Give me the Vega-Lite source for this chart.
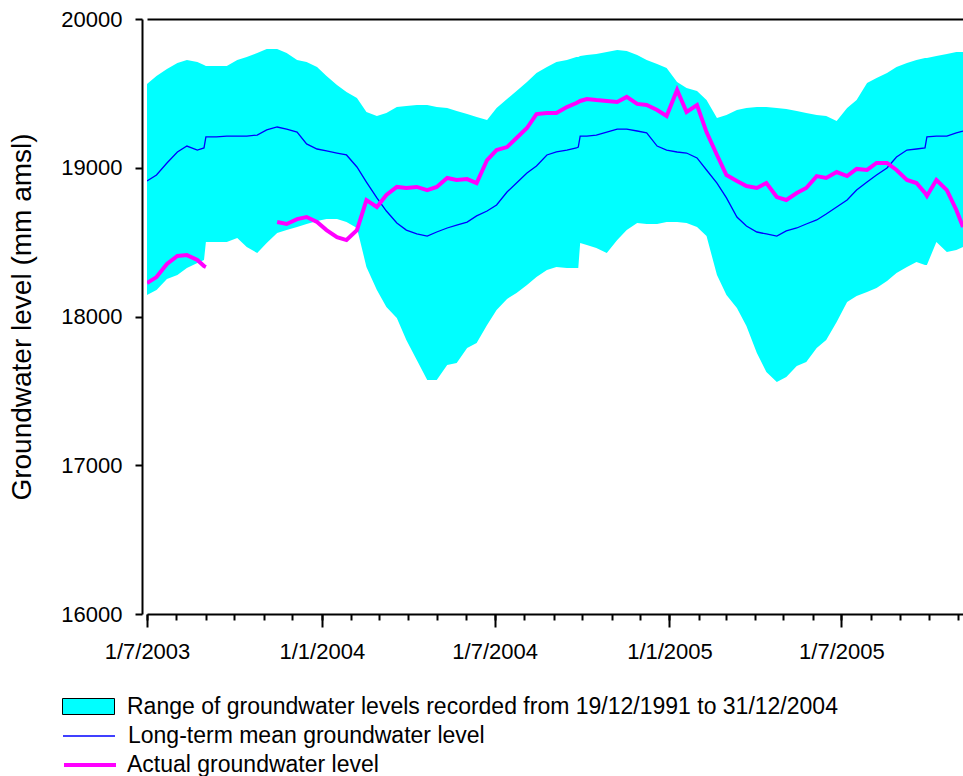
{
 "$schema": "https://vega.github.io/schema/vega-lite/v6.json",
 "width": 816,
 "height": 595,
 "autosize": {"type": "none"},
 "padding": {"left": 147, "top": 19, "right": 0, "bottom": 162},
 "background": "white",
 "config": {"view": {"stroke": null}, "font": "Liberation Sans", "axis": {"grid": false, "domainColor": "black", "tickColor": "black", "labelColor": "black", "titleColor": "black"}},
 "data": {"values": [
  {"d":"2003-07-01","lo":18144,"hi":19563,"mn":18911,"ac":18225,"sg":1},
  {"d":"2003-07-11","lo":18178,"hi":19617,"mn":18951,"ac":18265,"sg":1},
  {"d":"2003-07-22","lo":18252,"hi":19664,"mn":19032,"ac":18353,"sg":1},
  {"d":"2003-08-02","lo":18279,"hi":19704,"mn":19106,"ac":18407,"sg":1},
  {"d":"2003-08-12","lo":18326,"hi":19724,"mn":19146,"ac":18413,"sg":1},
  {"d":"2003-08-23","lo":18360,"hi":19711,"mn":19119,"ac":18380,"sg":1},
  {"d":"2003-08-30","lo":18380,"hi":19691,"mn":19133,"ac":18339,"sg":1},
  {"d":"2003-09-01","lo":18501,"hi":19684,"mn":19207,"ac":18333,"sg":1},
  {"d":"2003-09-02","lo":18501,"hi":19684,"mn":19207,"ac":null,"sg":null},
  {"d":"2003-09-12","lo":18501,"hi":19684,"mn":19207,"ac":null,"sg":null},
  {"d":"2003-09-23","lo":18501,"hi":19684,"mn":19213,"ac":null,"sg":null},
  {"d":"2003-10-04","lo":18528,"hi":19724,"mn":19213,"ac":null,"sg":null},
  {"d":"2003-10-14","lo":18467,"hi":19745,"mn":19213,"ac":null,"sg":null},
  {"d":"2003-10-25","lo":18427,"hi":19771,"mn":19220,"ac":null,"sg":null},
  {"d":"2003-11-04","lo":18494,"hi":19798,"mn":19254,"ac":null,"sg":null},
  {"d":"2003-11-15","lo":18561,"hi":19798,"mn":19274,"ac":18635,"sg":2},
  {"d":"2003-11-25","lo":18581,"hi":19771,"mn":19260,"ac":18622,"sg":2},
  {"d":"2003-12-06","lo":18602,"hi":19724,"mn":19240,"ac":18655,"sg":2},
  {"d":"2003-12-16","lo":18622,"hi":19711,"mn":19160,"ac":18669,"sg":2},
  {"d":"2003-12-27","lo":18642,"hi":19677,"mn":19126,"ac":18635,"sg":2},
  {"d":"2004-01-06","lo":18655,"hi":19617,"mn":19113,"ac":18581,"sg":2},
  {"d":"2004-01-17","lo":18655,"hi":19556,"mn":19099,"ac":18534,"sg":2},
  {"d":"2004-01-27","lo":18635,"hi":19509,"mn":19086,"ac":18514,"sg":2},
  {"d":"2004-02-07","lo":18595,"hi":19469,"mn":19005,"ac":18581,"sg":2},
  {"d":"2004-02-17","lo":18333,"hi":19375,"mn":18904,"ac":18783,"sg":2},
  {"d":"2004-02-28","lo":18178,"hi":19348,"mn":18797,"ac":18736,"sg":2},
  {"d":"2004-03-09","lo":18064,"hi":19368,"mn":18709,"ac":18817,"sg":2},
  {"d":"2004-03-20","lo":17990,"hi":19408,"mn":18629,"ac":18871,"sg":2},
  {"d":"2004-03-30","lo":17842,"hi":19415,"mn":18581,"ac":18864,"sg":2},
  {"d":"2004-04-10","lo":17707,"hi":19422,"mn":18555,"ac":18871,"sg":2},
  {"d":"2004-04-21","lo":17573,"hi":19422,"mn":18541,"ac":18850,"sg":2},
  {"d":"2004-05-01","lo":17573,"hi":19408,"mn":18568,"ac":18871,"sg":2},
  {"d":"2004-05-12","lo":17674,"hi":19402,"mn":18595,"ac":18931,"sg":2},
  {"d":"2004-05-22","lo":17687,"hi":19381,"mn":18615,"ac":18918,"sg":2},
  {"d":"2004-06-02","lo":17788,"hi":19361,"mn":18635,"ac":18924,"sg":2},
  {"d":"2004-06-12","lo":17822,"hi":19341,"mn":18676,"ac":18897,"sg":2},
  {"d":"2004-06-23","lo":17943,"hi":19321,"mn":18709,"ac":19052,"sg":2},
  {"d":"2004-07-03","lo":18044,"hi":19402,"mn":18750,"ac":19119,"sg":2},
  {"d":"2004-07-14","lo":18118,"hi":19462,"mn":18837,"ac":19139,"sg":2},
  {"d":"2004-07-24","lo":18158,"hi":19516,"mn":18897,"ac":19200,"sg":2},
  {"d":"2004-08-04","lo":18212,"hi":19576,"mn":18965,"ac":19267,"sg":2},
  {"d":"2004-08-14","lo":18265,"hi":19637,"mn":19012,"ac":19361,"sg":2},
  {"d":"2004-08-25","lo":18313,"hi":19677,"mn":19086,"ac":19368,"sg":2},
  {"d":"2004-09-04","lo":18333,"hi":19711,"mn":19106,"ac":19368,"sg":2},
  {"d":"2004-09-15","lo":18326,"hi":19724,"mn":19119,"ac":19408,"sg":2},
  {"d":"2004-09-25","lo":18326,"hi":19745,"mn":19133,"ac":19435,"sg":2},
  {"d":"2004-09-27","lo":18326,"hi":19745,"mn":19139,"ac":19442,"sg":2},
  {"d":"2004-09-29","lo":18494,"hi":19751,"mn":19213,"ac":19449,"sg":2},
  {"d":"2004-10-06","lo":18481,"hi":19758,"mn":19213,"ac":19462,"sg":2},
  {"d":"2004-10-16","lo":18460,"hi":19765,"mn":19220,"ac":19455,"sg":2},
  {"d":"2004-10-27","lo":18427,"hi":19778,"mn":19240,"ac":19449,"sg":2},
  {"d":"2004-11-07","lo":18514,"hi":19792,"mn":19260,"ac":19442,"sg":2},
  {"d":"2004-11-17","lo":18581,"hi":19785,"mn":19260,"ac":19476,"sg":2},
  {"d":"2004-11-28","lo":18629,"hi":19758,"mn":19247,"ac":19429,"sg":2},
  {"d":"2004-12-08","lo":18622,"hi":19724,"mn":19234,"ac":19422,"sg":2},
  {"d":"2004-12-19","lo":18622,"hi":19697,"mn":19146,"ac":19388,"sg":2},
  {"d":"2004-12-29","lo":18635,"hi":19671,"mn":19119,"ac":19348,"sg":2},
  {"d":"2005-01-09","lo":18635,"hi":19576,"mn":19106,"ac":19523,"sg":2},
  {"d":"2005-01-19","lo":18629,"hi":19536,"mn":19099,"ac":19375,"sg":2},
  {"d":"2005-01-30","lo":18602,"hi":19516,"mn":19066,"ac":19422,"sg":2},
  {"d":"2005-02-09","lo":18541,"hi":19455,"mn":18985,"ac":19240,"sg":2},
  {"d":"2005-02-20","lo":18279,"hi":19334,"mn":18897,"ac":19086,"sg":2},
  {"d":"2005-03-02","lo":18144,"hi":19355,"mn":18797,"ac":18951,"sg":2},
  {"d":"2005-03-13","lo":18057,"hi":19388,"mn":18669,"ac":18911,"sg":2},
  {"d":"2005-03-23","lo":17936,"hi":19402,"mn":18608,"ac":18877,"sg":2},
  {"d":"2005-04-03","lo":17755,"hi":19408,"mn":18568,"ac":18864,"sg":2},
  {"d":"2005-04-13","lo":17627,"hi":19408,"mn":18555,"ac":18897,"sg":2},
  {"d":"2005-04-24","lo":17560,"hi":19402,"mn":18541,"ac":18803,"sg":2},
  {"d":"2005-05-04","lo":17593,"hi":19395,"mn":18575,"ac":18783,"sg":2},
  {"d":"2005-05-15","lo":17667,"hi":19381,"mn":18595,"ac":18830,"sg":2},
  {"d":"2005-05-25","lo":17694,"hi":19368,"mn":18622,"ac":18864,"sg":2},
  {"d":"2005-06-05","lo":17788,"hi":19355,"mn":18649,"ac":18944,"sg":2},
  {"d":"2005-06-15","lo":17842,"hi":19348,"mn":18689,"ac":18931,"sg":2},
  {"d":"2005-06-26","lo":17963,"hi":19314,"mn":18736,"ac":18971,"sg":2},
  {"d":"2005-07-07","lo":18097,"hi":19402,"mn":18783,"ac":18944,"sg":2},
  {"d":"2005-07-17","lo":18138,"hi":19455,"mn":18850,"ac":18992,"sg":2},
  {"d":"2005-07-28","lo":18165,"hi":19570,"mn":18904,"ac":18985,"sg":2},
  {"d":"2005-08-07","lo":18192,"hi":19603,"mn":18951,"ac":19032,"sg":2},
  {"d":"2005-08-18","lo":18239,"hi":19637,"mn":18998,"ac":19032,"sg":2},
  {"d":"2005-08-28","lo":18292,"hi":19677,"mn":19072,"ac":18985,"sg":2},
  {"d":"2005-09-08","lo":18333,"hi":19704,"mn":19119,"ac":18918,"sg":2},
  {"d":"2005-09-18","lo":18366,"hi":19724,"mn":19126,"ac":18897,"sg":2},
  {"d":"2005-09-27","lo":18346,"hi":19738,"mn":19133,"ac":18830,"sg":2},
  {"d":"2005-09-29","lo":18346,"hi":19738,"mn":19207,"ac":18810,"sg":2},
  {"d":"2005-10-09","lo":18501,"hi":19751,"mn":19213,"ac":18918,"sg":2},
  {"d":"2005-10-20","lo":18434,"hi":19765,"mn":19213,"ac":18850,"sg":2},
  {"d":"2005-10-30","lo":18447,"hi":19778,"mn":19234,"ac":18716,"sg":2},
  {"d":"2005-11-06","lo":18467,"hi":19778,"mn":19247,"ac":18602,"sg":2}
 ]},
 "layer": [
  {
   "mark": {"type": "area", "opacity": 1, "clip": true},
   "encoding": {
    "x": {"field": "d", "type": "temporal",
     "scale": {"type": "utc", "nice": false, "domain": [{"year": 2003, "month": 7, "date": 1, "utc": true}, {"year": 2005, "month": 11, "date": 6, "utc": true}]},
     "axis": {"orient": "bottom", "title": null, "tickCount": {"interval": "month", "step": 6}, "format": "%-d/%-m/%Y", "tickSize": 13, "tickWidth": 2, "domainWidth": 2, "labelFontSize": 22, "labelFont": "Liberation Sans", "labelPadding": 14, "labelFlush": false, "labelOverlap": false}},
    "y": {"field": "lo", "type": "quantitative",
     "scale": {"domain": [16000, 20000], "nice": false, "zero": false},
     "axis": {"orient": "left", "offset": 5, "values": [16000, 17000, 18000, 19000, 20000], "format": "d", "tickSize": 7, "tickWidth": 2, "domainWidth": 2, "labelFontSize": 22, "labelFont": "Liberation Sans", "labelPadding": 13, "title": "Groundwater level (mm amsl)", "titleFontSize": 28, "titleFontWeight": "normal", "titleFont": "Liberation Sans", "titlePadding": 24}},
    "y2": {"field": "hi"},
    "color": {"datum": "Range of groundwater levels recorded from 19/12/1991 to 31/12/2004", "type": "nominal",
     "scale": {"range": ["#00FFFF"]},
     "legend": {"orient": "none", "legendX": -85, "legendY": 661, "title": null, "padding": 0, "symbolType": "M-1,-0.3077H1V0.3077H-1Z", "symbolSize": 2704, "symbolFillColor": "#00FFFF", "symbolStrokeColor": "black", "symbolStrokeWidth": 1, "symbolOpacity": 1, "labelFontSize": 23, "labelFont": "Liberation Sans", "labelColor": "black", "labelOffset": 12, "labelLimit": 1000,
      "encode": {"symbols": {"update": {"stroke": {"value": "black"}, "strokeWidth": {"value": 1}, "fill": {"value": "#00FFFF"}, "opacity": {"value": 1}}}}}}
   }
  },
  {
   "mark": {"type": "line", "strokeWidth": 1.3, "clip": true},
   "encoding": {
    "x": {"field": "d", "type": "temporal",
     "scale": {"type": "utc", "nice": false, "domain": [{"year": 2003, "month": 7, "date": 1, "utc": true}, {"year": 2005, "month": 11, "date": 6, "utc": true}]},
     "axis": {"orient": "bottom", "title": null, "tickCount": {"interval": "month", "step": 1}, "labels": false, "domain": false, "tickSize": 6, "tickWidth": 2}},
    "y": {"field": "mn", "type": "quantitative", "scale": {"domain": [16000, 20000], "nice": false, "zero": false},
     "axis": {"orient": "left", "offset": 5, "values": [16000, 17000, 18000, 19000, 20000], "format": "d", "tickSize": 7, "tickWidth": 2, "domainWidth": 2, "labelFontSize": 22, "labelFont": "Liberation Sans", "labelPadding": 13, "title": "Groundwater level (mm amsl)", "titleFontSize": 28, "titleFontWeight": "normal", "titleFont": "Liberation Sans", "titlePadding": 24}},
    "color": {"datum": "Long-term mean groundwater level", "type": "nominal",
     "scale": {"range": ["#0000FF"]},
     "legend": {"orient": "none", "legendX": -85, "legendY": 690, "title": null, "padding": 0, "symbolType": "stroke", "symbolSize": 2704, "symbolStrokeWidth": 1.3, "labelFontSize": 23, "labelFont": "Liberation Sans", "labelColor": "black", "labelOffset": 12, "labelLimit": 1000}}
   }
  },
  {
   "transform": [{"filter": "isValid(datum.ac)"}],
   "mark": {"type": "line", "strokeWidth": 4, "clip": true},
   "encoding": {
    "x": {"field": "d", "type": "temporal",
     "scale": {"type": "utc", "nice": false, "domain": [{"year": 2003, "month": 7, "date": 1, "utc": true}, {"year": 2005, "month": 11, "date": 6, "utc": true}]},
     "axis": {"orient": "top", "title": null, "ticks": false, "labels": false, "domain": true, "domainWidth": 2}},
    "y": {"field": "ac", "type": "quantitative", "scale": {"domain": [16000, 20000], "nice": false, "zero": false},
     "axis": {"orient": "left", "offset": 5, "values": [16000, 17000, 18000, 19000, 20000], "format": "d", "tickSize": 7, "tickWidth": 2, "domainWidth": 2, "labelFontSize": 22, "labelFont": "Liberation Sans", "labelPadding": 13, "title": "Groundwater level (mm amsl)", "titleFontSize": 28, "titleFontWeight": "normal", "titleFont": "Liberation Sans", "titlePadding": 24}},
    "detail": {"field": "sg", "type": "nominal"},
    "color": {"datum": "Actual groundwater level", "type": "nominal",
     "scale": {"range": ["#FF00FF"]},
     "legend": {"orient": "none", "legendX": -85, "legendY": 718, "title": null, "padding": 0, "symbolType": "stroke", "symbolSize": 2704, "symbolStrokeWidth": 4, "labelFontSize": 23, "labelFont": "Liberation Sans", "labelColor": "black", "labelOffset": 9, "labelLimit": 1000}}
   }
  }
 ],
 "resolve": {"scale": {"color": "independent"}, "axis": {"x": "independent"}}
}
